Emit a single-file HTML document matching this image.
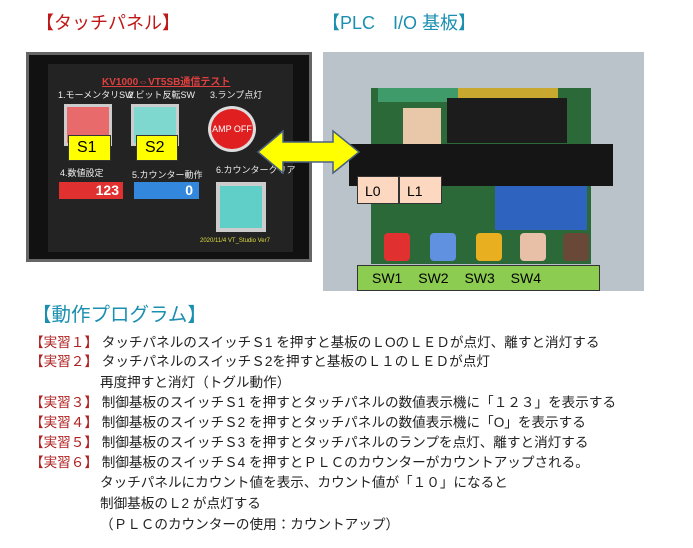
<!DOCTYPE html>
<html><head><meta charset="utf-8"><style>
body{margin:0;width:693px;height:548px;background:#fff;position:relative;overflow:hidden;font-family:"Liberation Sans","Noto Sans CJK JP",sans-serif}
div{position:absolute;box-sizing:border-box}
.t{white-space:nowrap;font-size:13.6px;color:#222}
.r{color:#b02020}
.s{font-size:9px;color:#eee;white-space:nowrap}
</style></head><body>
<div class="t" style="left:36px;top:9px;font-size:18px;color:#c01818">【タッチパネル】</div>
<div class="t" style="left:322px;top:9px;font-size:18px;color:#1a8fb0">【PLC　I/O 基板】</div>

<div style="left:26px;top:52px;width:286px;height:210px;background:#111;border:3px solid #666"></div>
<div style="left:48px;top:64px;width:245px;height:188px;background:#232323"></div>
<div class="s" style="left:102px;top:73px;color:#e04040;font-size:10px;text-decoration:underline;font-weight:bold">KV1000⇔VT5SB通信テスト</div>
<div class="s" style="left:58px;top:88px">1.モーメンタリSW</div>
<div class="s" style="left:128px;top:88px">2.ビット反転SW</div>
<div class="s" style="left:210px;top:88px">3.ランプ点灯</div>
<div style="left:64px;top:104px;width:48px;height:42px;background:#ccc;padding:3px"><div style="position:static;width:100%;height:100%;background:#e86a6a"></div></div>
<div style="left:131px;top:104px;width:48px;height:42px;background:#ccc;padding:3px"><div style="position:static;width:100%;height:100%;background:#7fd8d0"></div></div>
<div style="left:208px;top:106px;width:48px;height:46px;border-radius:50%;background:#e02020;border:3px solid #ddd;color:#fff;font-size:9px;line-height:40px;text-align:center">AMP OFF</div>
<div style="left:68px;top:135px;width:43px;height:26px;background:#ffff00;border:1px solid #333;font-size:16px;padding-left:8px;line-height:24px">S1</div>
<div style="left:136px;top:135px;width:42px;height:26px;background:#ffff00;border:1px solid #333;font-size:16px;padding-left:8px;line-height:24px">S2</div>
<div class="s" style="left:60px;top:166px">4.数値設定</div>
<div class="s" style="left:132px;top:168px">5.カウンター動作</div>
<div class="s" style="left:216px;top:163px">6.カウンタークリア</div>
<div style="left:59px;top:182px;width:64px;height:17px;background:#e03030;color:#fff;font-size:14px;text-align:right;padding-right:4px;line-height:17px;font-weight:bold">123</div>
<div style="left:134px;top:182px;width:65px;height:17px;background:#3388dd;color:#fff;font-size:14px;text-align:right;padding-right:6px;line-height:17px;font-weight:bold">0</div>
<div style="left:216px;top:182px;width:50px;height:50px;background:#ccc;padding:4px"><div style="position:static;width:100%;height:100%;background:#5fcfc8"></div></div>
<div class="s" style="left:200px;top:238px;font-size:6px;color:#dd4">2020/11/4  VT_Studio Ver7</div>

<div style="left:323px;top:52px;width:321px;height:239px;background:#b9c3c9"></div>
<div style="left:371px;top:88px;width:220px;height:176px;background:#2b6a38"></div>
<div style="left:378px;top:88px;width:80px;height:14px;background:#3f9c6a"></div>
<div style="left:458px;top:88px;width:100px;height:14px;background:#c9a830"></div>
<div style="left:403px;top:108px;width:38px;height:40px;background:#e8c8a8"></div>
<div style="left:447px;top:98px;width:120px;height:45px;background:#1c1c1c"></div>
<div style="left:349px;top:144px;width:264px;height:42px;background:#151515"></div>
<div style="left:495px;top:186px;width:92px;height:44px;background:#2e63c0"></div>
<div style="left:384px;top:233px;width:26px;height:28px;background:#e03030;border-radius:4px"></div>
<div style="left:430px;top:233px;width:26px;height:28px;background:#6090e0;border-radius:4px"></div>
<div style="left:476px;top:233px;width:26px;height:28px;background:#e8b020;border-radius:4px"></div>
<div style="left:520px;top:233px;width:26px;height:28px;background:#e8c0a8;border-radius:4px"></div>
<div style="left:563px;top:233px;width:26px;height:28px;background:#6a4838;border-radius:4px"></div>
<div style="left:357px;top:176px;width:42px;height:28px;background:#fcd8c0;border:1px solid #333;font-size:14px;padding:6px 0 0 7px">L0</div>
<div style="left:399px;top:176px;width:43px;height:28px;background:#fcd8c0;border:1px solid #333;font-size:14px;padding:6px 0 0 7px">L1</div>
<div style="left:357px;top:265px;width:243px;height:26px;background:#8ccc50;border:1px solid #333;font-size:14px;line-height:24px;padding-left:14px;word-spacing:12px;white-space:nowrap">SW1 SW2 SW3 SW4</div>

<svg style="position:absolute;left:255px;top:128px" width="110" height="50"><polygon points="3,24 28,3 28,14 78,14 78,3 104,24 78,45 78,34 28,34 28,45" fill="#ffff00" stroke="#4a6080" stroke-width="1.5"/></svg>

<div class="t" style="left:32px;top:298px;font-size:19.5px;color:#1a8fb0">【動作プログラム】</div>
<div class="t" style="left:30px;top:331px"><span class="r">【実習１】</span> タッチパネルのスイッチＳ1 を押すと基板のＬOのＬＥＤが点灯、離すと消灯する</div>
<div class="t" style="left:30px;top:350px"><span class="r">【実習２】</span> タッチパネルのスイッチＳ2を押すと基板のＬ１のＬＥＤが点灯</div>
<div class="t" style="left:100px;top:371px">再度押すと消灯（トグル動作）</div>
<div class="t" style="left:30px;top:391px"><span class="r">【実習３】</span> 制御基板のスイッチＳ1 を押すとタッチパネルの数値表示機に「１２３」を表示する</div>
<div class="t" style="left:30px;top:411px"><span class="r">【実習４】</span> 制御基板のスイッチＳ2 を押すとタッチパネルの数値表示機に「O」を表示する</div>
<div class="t" style="left:30px;top:431px"><span class="r">【実習５】</span> 制御基板のスイッチＳ3 を押すとタッチパネルのランプを点灯、離すと消灯する</div>
<div class="t" style="left:30px;top:451px"><span class="r">【実習６】</span> 制御基板のスイッチＳ4 を押すとＰＬＣのカウンターがカウントアップされる。</div>
<div class="t" style="left:100px;top:471px">タッチパネルにカウント値を表示、カウント値が「１０」になると</div>
<div class="t" style="left:100px;top:492px">制御基板のＬ2 が点灯する</div>
<div class="t" style="left:100px;top:513px">（ＰＬＣのカウンターの使用：カウントアップ）</div>
</body></html>
